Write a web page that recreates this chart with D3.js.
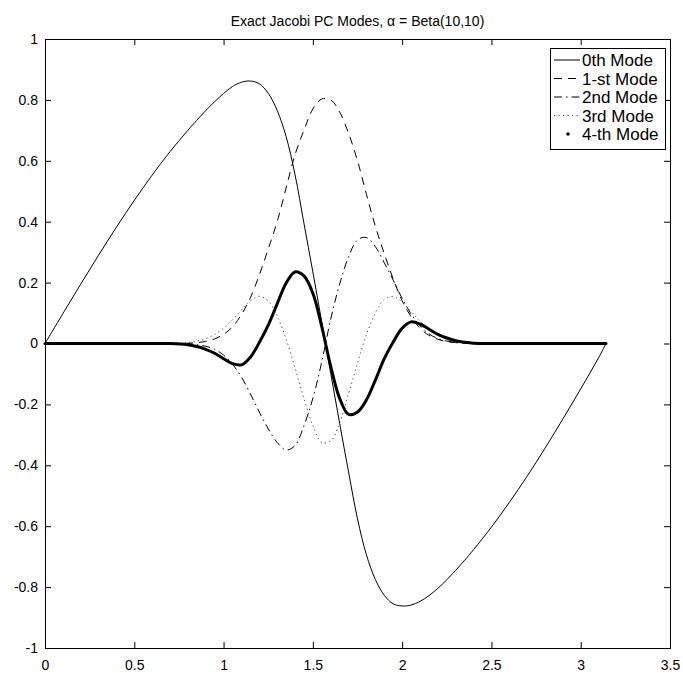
<!DOCTYPE html>
<html>
<head>
<meta charset="utf-8">
<script src="https://cdn.jsdelivr.net/npm/d3@7"></script>
<style>
  html, body { margin: 0; padding: 0; background: #fff; }
  svg { display: block; }
</style>
</head>
<body>
<div id="chart"></div>
<script>
// values
const xs = [0, 0.1, 0.2, 0.3, 0.4, 0.5, 0.6, 0.7,
  0.8, 0.85, 0.9, 0.95, 1.0, 1.05, 1.1, 1.15, 1.2, 1.25, 1.3, 1.35, 1.4, 1.45, 1.5, 1.55,
  1.6, 1.65, 1.7, 1.75, 1.8, 1.85, 1.9, 1.95, 2.0, 2.05, 2.1, 2.15, 2.2, 2.25, 2.3, 2.35, 2.4,
  2.5, 2.6, 2.7, 2.8, 2.9, 3.0, 3.1, 3.1416];

const mode0 = [0, 0.098, 0.195, 0.29, 0.382, 0.47, 0.553, 0.63,
  0.70, 0.733, 0.765, 0.794, 0.821, 0.844, 0.858, 0.862, 0.853, 0.822, 0.766, 0.68, 0.555, 0.395, 0.235, 0.07,
  -0.098, -0.262, -0.422, -0.576, -0.694, -0.775, -0.827, -0.855, -0.862, -0.859, -0.847, -0.828, -0.804, -0.776, -0.745, -0.712, -0.677,
  -0.603, -0.522, -0.436, -0.344, -0.248, -0.149, -0.047, 0];

const mode1 = [0, 0, 0, 0, 0, 0, 0, 0,
  0.001, 0.003, 0.007, 0.015, 0.03, 0.055, 0.095, 0.15, 0.225, 0.31, 0.40, 0.51, 0.62, 0.70, 0.77, 0.803,
  0.80, 0.76, 0.69, 0.60, 0.49, 0.385, 0.295, 0.212, 0.14, 0.088, 0.05, 0.027, 0.014, 0.006, 0.003, 0.001, 0,
  0, 0, 0, 0, 0, 0, 0, 0];

const mode2 = [0, 0, 0, 0, 0, 0, 0, 0,
  -0.001, -0.004, -0.009, -0.019, -0.038, -0.068, -0.11, -0.165, -0.225, -0.28, -0.325, -0.35, -0.335, -0.27, -0.18, -0.06,
  0.08, 0.195, 0.285, 0.34, 0.348, 0.318, 0.265, 0.208, 0.148, 0.097, 0.058, 0.032, 0.016, 0.008, 0.003, 0.001, 0,
  0, 0, 0, 0, 0, 0, 0, 0];

const mode3 = [0, 0, 0, 0, 0, 0, 0, 0,
  0.003, 0.008, 0.016, 0.03, 0.05, 0.078, 0.11, 0.14, 0.155, 0.14, 0.09, 0.015, -0.08, -0.18, -0.27, -0.325,
  -0.32, -0.26, -0.165, -0.065, 0.03, 0.1, 0.145, 0.154, 0.136, 0.105, 0.073, 0.046, 0.027, 0.014, 0.007, 0.003, 0.001,
  0, 0, 0, 0, 0, 0, 0, 0];

const mode4 = [0, 0, 0, 0, 0, 0, 0, 0,
  -0.004, -0.01, -0.019, -0.032, -0.05, -0.066, -0.07, -0.045, 0.003, 0.06, 0.13, 0.198, 0.235, 0.222, 0.165, 0.055,
  -0.075, -0.18, -0.233, -0.225, -0.185, -0.12, -0.05, 0.005, 0.05, 0.071, 0.064, 0.047, 0.03, 0.018, 0.009, 0.004, 0.001,
  0, 0, 0, 0, 0, 0, 0, 0];

const modeNames = ['0th Mode', '1-st Mode', '2nd Mode', '3rd Mode', '4-th Mode'];

const xTicks = [0, 0.5, 1, 1.5, 2, 2.5, 3, 3.5];
const xTickLabels = ['0', '0.5', '1', '1.5', '2', '2.5', '3', '3.5'];
const yTicks = [-1, -0.8, -0.6, -0.4, -0.2, 0, 0.2, 0.4, 0.6, 0.8, 1];
const yTickLabels = ['-1', '-0.8', '-0.6', '-0.4', '-0.2', '0', '0.2', '0.4', '0.6', '0.8', '1'];

const titleText = 'Exact Jacobi PC Modes, \u03b1 = Beta(10,10)';

const FONT = "'Liberation Sans', Arial, Helvetica, sans-serif";
const W = 683, H = 673;
const margin = { top: 39, right: 13, bottom: 25, left: 45 };

const svg = d3.select('#chart').append('svg')
  .attr('width', W).attr('height', H)
  .attr('font-family', FONT);

svg.append('rect').attr('width', W).attr('height', H).attr('fill', '#fff');

const x = d3.scaleLinear().domain([0, 3.5]).range([margin.left, W - margin.right]);
const y = d3.scaleLinear().domain([-1, 1]).range([H - margin.bottom, margin.top]);

// line styles, matlab-ish
const styles = [
  { dash: null, width: 1, color: '#000' },
  { dash: '8,6', width: 1, color: '#000' },
  { dash: '8,4,1.5,4', width: 1, color: '#000' },
  { dash: '1.2,3.3', width: 1, color: '#444' },
  { dash: null, width: 3, color: '#000' }
];
const series = [mode0, mode1, mode2, mode3, mode4];

const line = d3.line()
  .x((d, i) => x(xs[i]))
  .y(d => y(d))
  .curve(d3.curveCatmullRom.alpha(0.5));

series.forEach((vals, k) => {
  const st = styles[k];
  svg.append('path')
    .datum(vals)
    .attr('fill', 'none')
    .attr('stroke', st.color)
    .attr('stroke-width', st.width)
    .attr('stroke-dasharray', st.dash)
    .attr('stroke-linejoin', 'round')
    .attr('stroke-linecap', k === 4 ? 'round' : 'butt')
    .attr('d', line);
});

// axes, ticks pointing inwards on all four sides
function styleAxis(g) {
  g.select('.domain').remove();
  g.selectAll('line').attr('stroke', '#000').attr('stroke-width', 1);
  g.selectAll('text').attr('fill', '#000').attr('font-size', '14px').attr('font-family', FONT);
}

const yBottom = H - margin.bottom;
svg.append('g')
  .attr('transform', `translate(0,${yBottom})`)
  .call(d3.axisBottom(x).tickValues(xTicks).tickSizeInner(-6).tickSizeOuter(0).tickPadding(12)
    .tickFormat((d, i) => xTickLabels[i]))
  .call(styleAxis);

svg.append('g')
  .attr('transform', `translate(0,${margin.top})`)
  .call(d3.axisTop(x).tickValues(xTicks).tickSizeInner(-6).tickSizeOuter(0).tickFormat(''))
  .call(styleAxis);

svg.append('g')
  .attr('transform', `translate(${margin.left},0)`)
  .call(d3.axisLeft(y).tickValues(yTicks).tickSizeInner(-6).tickSizeOuter(0).tickPadding(7)
    .tickFormat((d, i) => yTickLabels[i]))
  .call(styleAxis);

svg.append('g')
  .attr('transform', `translate(${W - margin.right},0)`)
  .call(d3.axisRight(y).tickValues(yTicks).tickSizeInner(-6).tickSizeOuter(0).tickFormat(''))
  .call(styleAxis);

// axes box
svg.append('rect')
  .attr('x', x(0) + 0.5).attr('y', y(1) + 0.5)
  .attr('width', x(3.5) - x(0)).attr('height', y(-1) - y(1))
  .attr('fill', 'none').attr('stroke', '#000').attr('stroke-width', 1);

// title
svg.append('text')
  .attr('x', (x(0) + x(3.5)) / 2).attr('y', 26)
  .attr('text-anchor', 'middle')
  .attr('font-size', '14px')
  .attr('fill', '#000')
  .text(titleText);

// legend
const lg = svg.append('g').attr('transform', 'translate(550,48)');
lg.append('rect')
  .attr('x', 0.5).attr('y', 0.5).attr('width', 115).attr('height', 101)
  .attr('fill', '#fff').attr('stroke', '#000').attr('stroke-width', 1);

modeNames.forEach((name, k) => {
  const st = styles[k];
  const cy = 12 + k * 18.5;
  if (k === 4) {
    lg.append('circle').attr('cx', 18).attr('cy', cy).attr('r', 1.8).attr('fill', '#000');
  } else {
    lg.append('line')
      .attr('x1', 4).attr('x2', 30).attr('y1', cy).attr('y2', cy)
      .attr('stroke', st.color).attr('stroke-width', st.width)
      .attr('stroke-dasharray', st.dash);
  }
  lg.append('text')
    .attr('x', 32).attr('y', cy).attr('dy', '0.36em')
    .attr('font-size', '17px').attr('fill', '#000')
    .text(name);
});
</script>
</body>
</html>
